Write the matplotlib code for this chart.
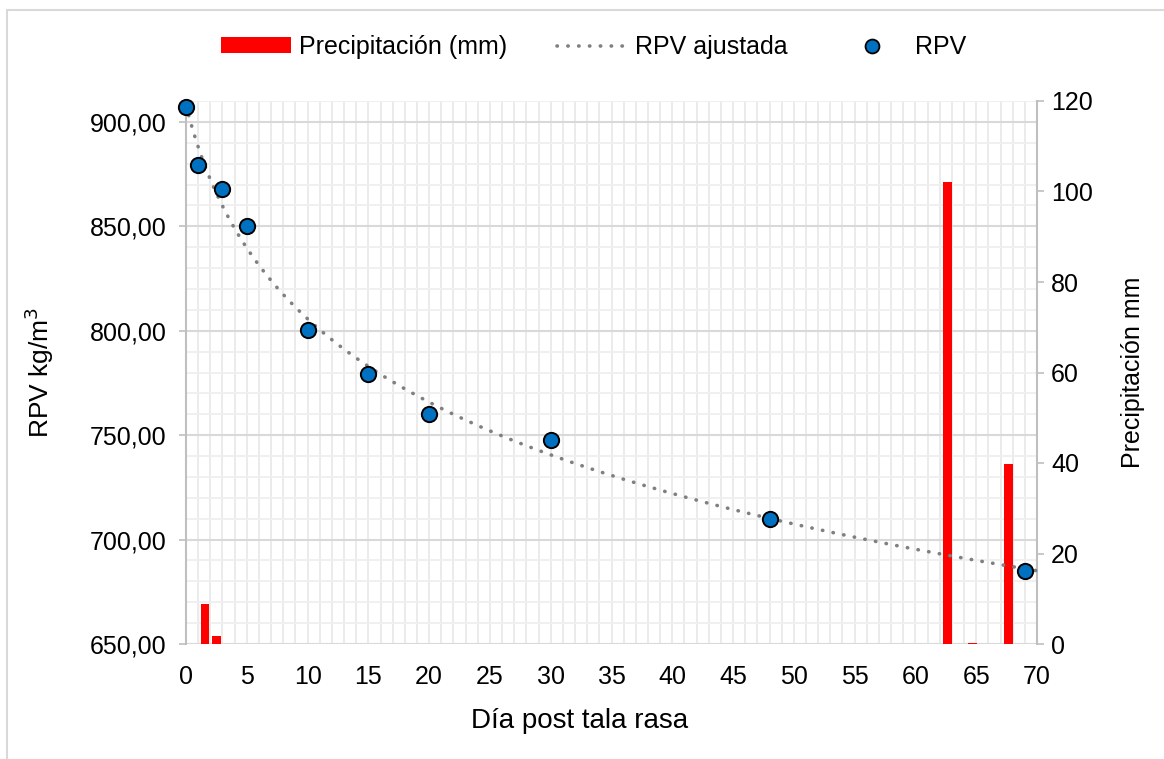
import numpy as np
import matplotlib
matplotlib.use("Agg")
import matplotlib.pyplot as plt
from matplotlib.patches import Rectangle, Patch
from matplotlib.lines import Line2D
from matplotlib.ticker import MultipleLocator, FuncFormatter

plt.rcParams['font.family'] = ['Liberation Sans', 'DejaVu Sans']

# --- DATOS ---
dias = [0, 1, 3, 5, 10, 15, 20, 30, 48, 69]
rpv = [907.0, 879.5, 868.0, 850.0, 800.5, 779.5, 760.0, 747.5, 709.7, 685.0]

dias_lluvia = [1.55, 2.5, 62.65, 64.7, 67.65]
precip = [8.8, 1.8, 102.2, 0.2, 39.8]

# --- TENDENCIA (logaritmica, ajustada a los datos) ---
x = np.array(dias, dtype=float)
b, a = np.polyfit(np.log(x + 3), np.array(rpv), 1)
x_fit = np.linspace(0, 70, 300)
y_fit = a + b * np.log(x_fit + 3)

# --- FIGURA ---
fig = plt.figure(figsize=(11.64, 7.59), dpi=100)
ax = fig.add_axes([186/1164, 1 - 644/759, (1037-186)/1164, (644-101)/759])
ax2 = ax.twinx()

# borde de la figura
fig.patches.append(Rectangle((6.5/1164, -0.1), 1.2, 1 - 9.5/759 + 0.1,
                             transform=fig.transFigure, fill=False,
                             edgecolor='#D9D9D9', lw=1.5, zorder=0))

# barras de precipitacion (eje secundario)
ax2.bar(dias_lluvia, precip, width=0.7, color='#FF0000', zorder=2)
ax2.set_ylim(0, 120)
ax2.yaxis.set_major_locator(MultipleLocator(20))

# RPV en el eje principal, encima de las barras
ax.set_zorder(ax2.get_zorder() + 1)
ax.patch.set_visible(False)
ax2.patch.set_visible(True)

ax.plot(x_fit, y_fit, color='#808080', lw=2.6,
        linestyle=(0, (0.1, 2.9)), dash_capstyle='round', zorder=3, clip_on=False)
ax.plot(dias, rpv, 'o', ms=11, mfc='#0070C0', mec='black', mew=1.4,
        zorder=4, clip_on=False)

ax.set_xlim(0, 70)
ax.set_ylim(650, 910)
ax.xaxis.set_major_locator(MultipleLocator(5))
ax.xaxis.set_minor_locator(MultipleLocator(1))
ax.yaxis.set_major_locator(MultipleLocator(50))
ax.yaxis.set_minor_locator(MultipleLocator(10))
ax.yaxis.set_major_formatter(FuncFormatter(lambda v, p: f"{v:.2f}".replace('.', ',')))

# rejilla dibujada en ax2 (debajo de las barras)
ax2.set_xlim(0, 70)
for xv in np.arange(1, 71, 1):
    ax2.axvline(xv, color='#EBEBEB', lw=1.4, zorder=0)
for yv in np.arange(660, 911, 10):
    yy = (yv - 650) / 260 * 120
    ax2.axhline(yy, color='#D9D9D9' if yv % 50 == 0 else '#EFEFEF',
                lw=1.5 if yv % 50 == 0 else 1.3, zorder=0)
ax2.axhline(0, color='#D9D9D9', lw=1.5, zorder=0)

for a_ in (ax, ax2):
    for s in a_.spines.values():
        s.set_visible(False)
ax.spines['left'].set_visible(True)
ax.spines['left'].set_color('#BFBFBF')
ax.spines['left'].set_linewidth(1.5)
ax2.spines['right'].set_visible(True)
ax2.spines['right'].set_color('#BFBFBF')
ax2.spines['right'].set_linewidth(1.5)

ax.tick_params(axis='y', which='major', length=5, color='#BFBFBF', width=1.2,
               labelsize=18, pad=9)
ax.tick_params(axis='y', which='minor', length=0)
ax.tick_params(axis='x', which='both', length=0, labelsize=18, pad=15)
ax2.tick_params(axis='y', length=5, color='#BFBFBF', width=1.2, labelsize=18, pad=5)

ax.set_xlabel('Día post tala rasa', fontsize=20)
ax.xaxis.set_label_coords(0.463, -0.118)
ax.set_ylabel('RPV kg/m$^3$', fontsize=19, labelpad=24)
ax2.set_ylabel('Precipitación mm', fontsize=18, labelpad=20)

handles = [
    Patch(facecolor='#FF0000', edgecolor='none', label='Precipitación (mm)'),
    Line2D([0], [0], color='#808080', lw=2.6, linestyle=(0, (0.1, 2.9)),
           dash_capstyle='round', label='RPV ajustada'),
    Line2D([0], [0], marker='o', ls='none', ms=10, mfc='#0070C0', mec='black',
           mew=1.3, label='RPV'),
]
fig.legend(handles=handles, loc='center', bbox_to_anchor=(0.51, 0.938), ncol=3,
           frameon=False, fontsize=18, handlelength=2.8, handleheight=0.6,
           columnspacing=2.0, handletextpad=0.3)

fig.savefig('out.png', dpi=100)
